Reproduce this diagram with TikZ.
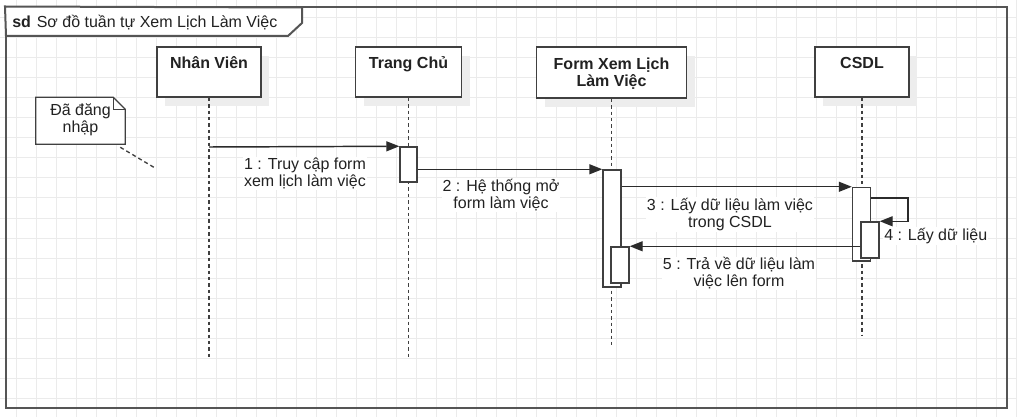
\documentclass[tikz,border=0pt]{standalone}
\usepackage{fontspec}
\setmainfont{Liberation Sans}
\usetikzlibrary{arrows.meta,fit,calc,shadows}
\definecolor{ln}{HTML}{2B2B2B}
\definecolor{bx}{HTML}{404040}
\definecolor{frm}{HTML}{555555}
\definecolor{gridc}{HTML}{EBEBEB}
\definecolor{txt}{HTML}{222222}
\begin{document}
\begin{tikzpicture}[x=0.75pt,y=-0.75pt,
  font=\fontsize{12pt}{12.75pt}\selectfont,
  lbox/.style={draw=bx, line width=1.1pt, fill=white, inner sep=0pt,
    drop shadow={shadow xshift=6pt, shadow yshift=-6.75pt, fill=black!7, opacity=1}},
  ltitle/.style={font=\bfseries\fontsize{12pt}{12.75pt}\selectfont, text=txt, align=center, inner sep=0pt},
  lifeline/.style={draw=bx, line width=1.2pt, dash pattern=on 2.6pt off 2.2pt},
  act/.style={draw=bx, line width=1.1pt, fill=white, inner sep=0pt},
  msg/.style={draw=ln, line width=1.1pt, -{Triangle[length=9.75pt,width=7.5pt]}},
  mlabel/.style={fill=white, inner sep=0.75pt, align=center, text=txt},
  notedash/.style={draw=bx, line width=1pt, dash pattern=on 3pt off 2.25pt},
  framebox/.style={draw=frm, line width=1.5pt, inner sep=0pt}
]
\useasboundingbox (0,0) rectangle (1017,417);
\fill[white] (0,0) rectangle (1017,417);
% grid
\foreach \gx in {16.5,36.5,...,1016.5} \draw[gridc, line width=0.75pt] (\gx,0) -- (\gx,417);
\foreach \gy in {18,38,...,398} \draw[gridc, line width=0.75pt] (0,\gy) -- (1017,\gy);

% frame
\node[framebox, fit={(6,7.5)(1007,407.5)}] (frame) {};
\draw[draw=frm, line width=1.5pt, fill=white] (frame.north west) -- (302,7.5) -- (302,23) -- (288,36) -- (6,36) -- cycle;
\node[anchor=base west, inner sep=0pt, text=txt, font=\bfseries\fontsize{12pt}{12.75pt}\selectfont] (sd) at (12,27.5) {sd};
\node[anchor=base west, inner sep=0pt, text=txt] (title) at (36.5,27.5) {Sơ đồ tuần tự Xem Lịch Làm Việc};

% lifeline boxes
\node[lbox, fit={(157,47)(261,97)}] (nv) {};
\node[lbox, fit={(355.5,47)(461.5,97)}] (tc) {};
\node[lbox, fit={(536.5,47)(686.5,98)}] (fm) {};
\node[lbox, fit={(815,47)(909,97)}] (db) {};
\node[ltitle, anchor=base] (nvt) at (209,68.3) {Nhân Viên};
\node[ltitle, anchor=base] (tct) at (408.5,68.3) {Trang Chủ};
\node[ltitle, anchor=north] (fmt) at (611.5,57.5) {Form Xem Lịch\\Làm Việc};
\node[ltitle, anchor=base] (dbt) at (862,68.3) {CSDL};

% lifeline ends
\coordinate (nvend) at (209,357);
\coordinate (tcend) at (408.5,357);
\coordinate (fmend) at (611.5,347);
\coordinate (dbend) at (862,335);
\draw[lifeline] (nv.south) -- (nvend);
\draw[lifeline] (tc.south) -- (tcend);
\draw[lifeline] (fm.south) -- (fmend);
\draw[lifeline] (db.south) -- (dbend);

% note
\path node[inner sep=0pt, fit={(36,97.5)(125,144)}] (note) {};
\draw[draw=bx, line width=1pt, fill=white] (note.north west) -- ($(note.north east)+(-12,0)$) -- ($(note.north east)+(0,12)$) -- (note.south east) -- (note.south west) -- cycle;
\draw[draw=bx, line width=1pt] ($(note.north east)+(-12,0)$) -- ($(note.north east)+(-12,12)$) -- ($(note.north east)+(0,12)$);
\node[align=center, inner sep=0pt, text=txt] (notetext) at (80.5,119.5) {Đã đăng\\nhập};
\coordinate (notetip) at (155,168);
\draw[notedash] ($(note.south east)+(-5,3)$) -- (notetip);

% activations
\node[act, fit={(400,147)(417,182)}] (a1) {};
\node[act, fit={(603,170)(621,287)}] (a2) {};
\node[act, fit={(852.5,187.5)(870.5,261)}] (a3) {};
\node[act, fit={(861,222)(879,258)}] (a4) {};
\node[act, fit={(611,247)(629,283)}] (a5) {};

% messages
\coordinate (m1) at (209,147);
\draw[msg] (m1) -- (a1.north west);
\draw[msg] (a1.east |- a2.north) -- (a2.north west);
\draw[msg] (a2.east |- a3.north) -- (a3.north west);
\coordinate (m4c) at (908,198);
\draw[msg] (a3.east |- m4c) -- (m4c) |- (a4.north east);
\draw[msg] (a4.west |- a5.north) -- (a5.north east);

% labels
\node[mlabel] (l1) at (305,173.5) {1 : Truy cập form\\xem lịch làm việc};
\node[mlabel] (l2) at (501,195) {2 : Hệ thống mở\\form làm việc};
\node[mlabel] (l3) at (730,214.5) {3 : Lấy dữ liệu làm việc\\trong CSDL};
\node[mlabel, anchor=west] (l4) at (883,236) {4 : Lấy dữ liệu};
\node[mlabel] (l5) at (739,273.5) {5 : Trả về dữ liệu làm\\việc lên form};
\end{tikzpicture}
\end{document}
